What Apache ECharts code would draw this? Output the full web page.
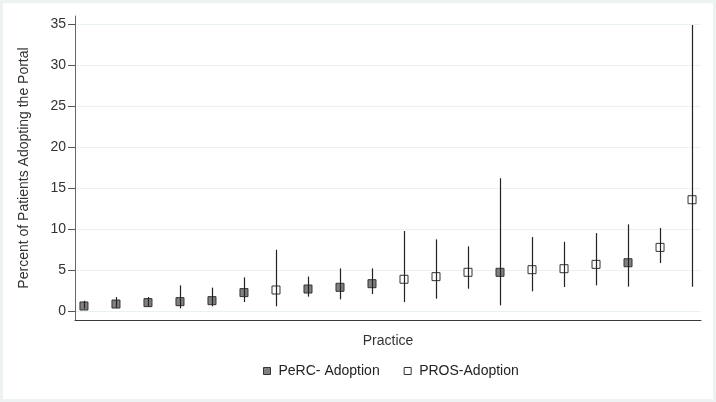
<!DOCTYPE html>
<html>
<head>
<meta charset="utf-8">
<script src="https://cdn.jsdelivr.net/npm/echarts@6/dist/echarts.min.js"></script>
<style>
html,body{margin:0;padding:0;background:#fff;}
#chart{width:716px;height:402px;position:absolute;left:0;top:0;}
#frame{position:absolute;left:0;top:0;width:716px;height:402px;box-sizing:border-box;border:3px solid #edf3f3;pointer-events:none;}
</style>
</head>
<body>
<div id="chart"></div>
<div id="frame"></div>
<script>
// Practices ordered by estimated adoption
const practice = [1,2,3,4,5,6,7,8,9,10,11,12,13,14,15,16,17,18,19,20];
const group    = ['PeRC','PeRC','PeRC','PeRC','PeRC','PeRC','PROS','PeRC','PeRC','PeRC',
                  'PROS','PROS','PROS','PeRC','PROS','PROS','PROS','PeRC','PROS','PROS'];
const estimate = [0.61,0.85,1.02,1.14,1.26,2.24,2.56,2.68,2.89,3.33,
                  3.87,4.19,4.72,4.72,5.04,5.16,5.69,5.89,7.76,13.58];
const lower    = [0.30,0.40,0.55,0.32,0.57,1.10,0.57,1.75,1.42,2.07,
                  1.10,1.50,2.72,0.69,2.40,2.93,3.13,2.97,5.85,2.97];
const upper    = [1.25,1.70,1.70,3.13,2.85,4.10,7.48,4.20,5.20,5.20,
                  9.76,8.74,7.89,16.20,9.02,8.45,9.50,10.57,10.12,34.90];
const yTicks   = [0,5,10,15,20,25,30,35];
const seriesNames = ['PeRC- Adoption','PROS-Adoption'];

const ciData = practice.map((p,i)=>[p, lower[i], upper[i]]);
const percData = practice.map((p,i)=>group[i]==='PeRC' ? [p, estimate[i]] : null).filter(d=>d);
const prosData = practice.map((p,i)=>group[i]==='PROS' ? [p, estimate[i]] : null).filter(d=>d);

const font = "'Liberation Sans', Arial, sans-serif";
const chart = echarts.init(document.getElementById('chart'), null, {renderer:'canvas'});
chart.setOption({
  animation:false,
  backgroundColor:'#fff',
  grid:{left:75, right:15, top:16, bottom:82, containLabel:false},
  xAxis:{
    type:'value', min:0.72, max:20.28,
    name:'Practice', nameLocation:'middle', nameGap:14,
    nameTextStyle:{fontFamily:font, fontSize:14, color:'#333'},
    axisLine:{show:true, onZero:false, lineStyle:{color:'#3a3a3a', width:1}},
    axisTick:{show:false}, axisLabel:{show:false}, splitLine:{show:false}
  },
  yAxis:{
    type:'value', min:-1.1, max:36,
    name:'Percent of Patients Adopting the Portal', nameLocation:'middle', nameGap:44,
    nameTextStyle:{fontFamily:font, fontSize:14, color:'#333'},
    axisLine:{show:true, onZero:false, lineStyle:{color:'#666', width:1}},
    axisTick:{show:true, length:7, customValues:yTicks, lineStyle:{color:'#555'}},
    axisLabel:{margin:9, customValues:yTicks, fontFamily:font, fontSize:14, color:'#333'},
    splitLine:{show:true, lineStyle:{color:'#eaf1f1', width:1}}
  },
  legend:{
    left:258, top:359, itemWidth:7, itemHeight:7, itemGap:24,
    textStyle:{fontFamily:font, fontSize:14, color:'#222', padding:[0,0,0,3]},
    data:[
      {name:seriesNames[0], icon:'rect', itemStyle:{color:'#808080', borderColor:'#333', borderWidth:1}},
      {name:seriesNames[1], icon:'rect', itemStyle:{color:'#fff', borderColor:'#333', borderWidth:1}}
    ]
  },
  series:[
    {
      type:'scatter', name:seriesNames[0], data:percData, z:2,
      symbol:'rect', symbolSize:8,
      itemStyle:{color:'#808080', borderColor:'#333', borderWidth:1, opacity:1}
    },
    {
      type:'scatter', name:seriesNames[1], data:prosData, z:2,
      symbol:'rect', symbolSize:8,
      itemStyle:{color:'#fff', borderColor:'#333', borderWidth:1, opacity:1}
    },
    {
      type:'custom', name:'CI', data:ciData, z:3,
      encode:{x:0, y:[1,2]},
      renderItem:function(params, api){
        const a = api.coord([api.value(0), api.value(1)]);
        const b = api.coord([api.value(0), api.value(2)]);
        const x = Math.round(a[0]) + 0.5;
        return {type:'line', shape:{x1:x, y1:a[1], x2:x, y2:b[1]},
                style:{stroke:'#222', lineWidth:1.2}};
      }
    }
  ]
});
</script>
</body>
</html>
